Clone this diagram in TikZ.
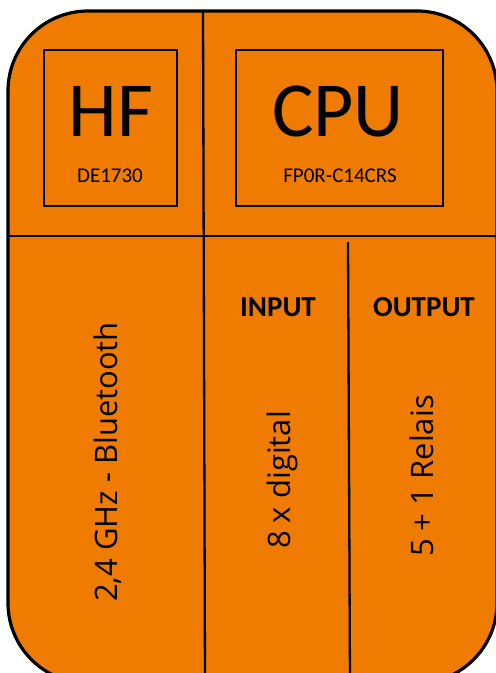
\documentclass[tikz,border=0pt]{standalone}
\usepackage{fontspec}
\setmainfont{Carlito}
\newfontfamily\rotfont{Open Sans}
\usepackage{tikz}
\definecolor{boardOrange}{RGB}{239,123,0}
\tikzstyle{tsBoard} = [
    draw=black,
    line width=3.2pt,
    fill=boardOrange,
    rounded corners=80pt
]
\tikzstyle{tsDivider} = [
    draw=black,
    line width=2.3pt
]
\tikzstyle{tsBlock} = [
    rectangle,
    draw=black,
    line width=2.6pt,
    inner sep=0pt,
    minimum height=156pt
]
\tikzstyle{tsTitle} = [
    text=black,
    inner sep=0pt,
    anchor=base,
    font=\fontsize{78pt}{78pt}\selectfont
]
\tikzstyle{tsType} = [
    text=black,
    inner sep=0pt,
    anchor=base,
    font=\fontsize{21pt}{21pt}\selectfont
]
\tikzstyle{tsHead} = [
    text=black,
    inner sep=0pt,
    anchor=base,
    font=\bfseries\fontsize{29pt}{29pt}\selectfont
]
\tikzstyle{tsRot} = [
    text=black,
    inner sep=0pt,
    anchor=base,
    rotate=90,
    font=\rotfont\fontsize{31pt}{31pt}\selectfont
]
\begin{document}
\begin{tikzpicture}[x=1pt, y=-1pt]

        \useasboundingbox (0,0) rectangle (496,673);
        \clip (0,0) rectangle (496,673);

        % board outline
        \draw[tsBoard] (8,11) rectangle (497,683);

        % divider end points
        \coordinate (midTop) at (203,11);
        \coordinate (midBot) at (205,683);
        \coordinate (rowL) at (8,236);
        \coordinate (rowR) at (497,236);
        \coordinate (ioTop) at (348,242);
        \coordinate (ioBot) at (350,683);

        \draw[tsDivider] (midTop) -- (midBot);
        \draw[tsDivider] (rowL) -- (rowR);
        \draw[tsDivider] (ioTop) -- (ioBot);

        % modules
        \node[tsBlock, minimum width=133pt] (hfbox) at (110.5,128) {};
        \node[tsBlock, minimum width=207pt] (cpubox) at (339.5,128) {};

        \node[tsTitle] (hf) at (111,136) {HF};
        \node[tsType] (hftype) at (110,182) {DE1730};
        \node[tsTitle] (cpu) at (338,136) {CPU};
        \node[tsType] (cputype) at (340,182) {FP0R-C14CRS};

        % lower row
        \node[tsHead] (input) at (278,316) {INPUT};
        \node[tsHead] (output) at (424,316) {OUTPUT};

        \node[tsRot] (radio) at (117,462) {2,4 GHz - Bluetooth};
        \node[tsRot] (inputs) at (290,480) {8 x digital};
        \node[tsRot] (outputs) at (433,476) {5 + 1 Relais};

\end{tikzpicture}
\end{document}
